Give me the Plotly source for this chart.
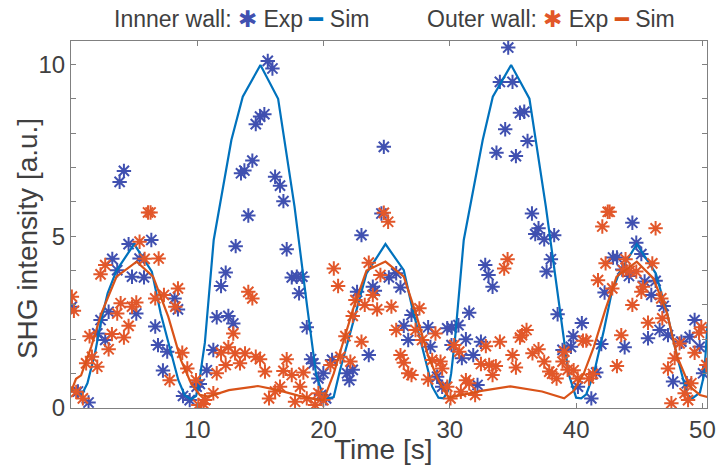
import plotly.graph_objects as go

# ---- Inner wall: experiment (time [s], SHG intensity [a.u.]) ----
inner_exp_t = [
    0.07, 0.55, 1.39, 2.08, 2.34, 2.71, 2.98, 3.27, 3.66, 3.85, 4.19, 4.56, 4.83, 5.17,
    5.43, 5.78, 6.36, 6.67, 6.89, 7.28, 7.62, 8.2, 8.47, 8.87, 9.4, 9.95,
    10.2, 10.75, 11.27, 11.54, 11.88, 12.25, 12.46, 12.85, 13.04, 13.46, 13.73, 14.04,
    14.36, 14.63, 14.97, 15.31, 15.58, 15.95, 16.16, 16.55, 16.82, 17.08, 17.48, 17.88,
    18.06, 18.32, 18.67, 19.01, 19.19, 19.59, 19.8, 19.98,
    20.2, 20.67, 21.86, 22.04, 22.31, 22.65, 23.0, 23.58, 23.9, 24.06, 24.58, 24.77,
    25.17, 25.75, 26.09, 26.35, 26.7, 26.96, 28.28, 28.46, 28.99, 29.39, 29.79, 30.13,
    30.15, 30.68, 30.95, 31.27, 31.53, 31.85, 32.19, 32.46, 32.8, 33.06, 33.38, 33.69,
    33.96, 34.38, 34.62, 34.96, 35.23, 35.55, 35.89, 36.15, 36.5, 36.76, 37.02, 37.47,
    37.66, 38.0, 38.26, 38.53, 38.92, 39.59, 39.77,
    40.14, 40.45, 41.2, 41.59, 41.99, 42.25, 42.92, 43.23, 43.65, 43.84, 44.18, 44.45,
    44.76, 45.16, 45.42, 45.69, 45.95, 46.29, 46.61, 46.93, 47.27, 47.67, 48.33, 48.76,
    48.99, 49.38, 49.78, 50.05,
]
inner_exp_v = [
    2.95, 0.48, 0.16, 2.17, 2.56, 1.98, 2.80, 4.34, 4.01, 6.58, 6.90, 4.77, 3.82, 2.75,
    4.35, 3.80, 4.89, 2.37, 1.83, 1.09, 1.64, 3.19, 2.87, 0.35, 0.23, 0.62,
    0.70, 1.10, 1.69, 2.64, 3.55, 3.94, 2.68, 2.46, 4.71, 6.83, 6.91, 5.60,
    7.20, 8.26, 8.48, 8.55, 10.10, 9.88, 6.73, 6.47, 6.02, 4.62, 3.80, 3.82,
    3.34, 3.82, 2.35, 1.42, 1.30, 0.86, 0.38, 1.01,
    0.28, 1.40, 1.01, 0.81, 1.11, 3.38, 5.03, 1.54, 3.53, 3.41, 5.66, 7.60,
    3.80, 3.92, 3.51, 2.39, 1.98, 2.71, 2.35, 1.78, 0.91, 0.62, 2.32, 1.83,
    2.34, 2.41, 1.45, 2.00, 2.77, 1.54, 0.67, 1.93, 4.16, 3.87, 3.53, 7.43,
    9.49, 8.11, 10.49, 9.49, 7.33, 8.59, 8.62, 7.77, 5.66, 5.06, 5.23, 4.91,
    3.97, 4.33, 5.03, 2.73, 1.69, 1.78, 2.09,
    0.62, 2.47, 0.28, 1.03, 1.86, 3.36, 4.38, 4.38, 4.03, 1.77, 3.84, 5.39,
    4.81, 4.48, 3.68, 2.03, 3.29, 3.70, 2.27, 2.97, 2.12, 0.77, 1.93, 0.72,
    2.07, 2.56, 1.78, 1.01,
]

# ---- Outer wall: experiment ----
outer_exp_t = [
    0.07, 0.23, 0.41, 0.94, 1.2, 1.47, 1.66, 2.08, 2.34, 2.71, 2.98, 3.24, 3.66, 3.93,
    4.19, 4.56, 4.83, 5.17, 5.43, 5.83, 6.1, 6.3, 6.67, 6.94, 7.36, 7.81, 8.26, 8.47,
    8.81, 9.21, 9.9,
    10.08, 10.5, 10.61, 11.27, 11.54, 11.88, 12.25, 12.46, 12.85, 12.99, 13.38, 13.78,
    14.04, 14.36, 14.63, 14.97, 15.36, 15.68, 16.16, 16.55, 16.82, 17.08, 17.48, 17.74,
    18.14, 18.4, 18.67, 19.33, 19.59, 19.98,
    20.54, 20.81, 21.15, 21.33, 21.73, 22.12, 22.31, 22.52, 23.0, 23.26, 23.58, 23.9,
    24.24, 24.5, 24.77, 25.11, 25.37, 25.75, 26.09, 26.35, 26.7, 26.96, 27.28, 27.59,
    27.8, 28.28, 28.6, 28.86, 29.26, 29.39, 29.79, 30.05,
    30.34, 30.74, 30.87, 31.27, 31.53, 32.0, 32.46, 32.85, 33.11, 33.38, 33.64, 33.96,
    34.3, 34.57, 34.96, 35.23, 35.55, 35.71, 36.07, 36.54, 37.02, 37.47, 37.87, 38.1,
    38.45, 38.92, 39.06, 39.32, 39.8,
    40.12, 40.54, 40.8, 41.01, 41.33, 41.73, 42.07, 42.33, 42.5, 42.65, 42.86, 43.23,
    43.57, 43.71, 43.91, 44.23, 44.45, 44.76, 45.16, 45.29, 45.69, 46.03, 46.29, 46.74,
    46.82, 47.27, 47.54, 47.8, 48.19, 48.59, 48.86, 49.12, 49.38, 49.73, 49.91, 50.31,
]
outer_exp_v = [
    3.24, 2.83, 0.47, 0.28, 1.30, 2.09, 1.49, 1.20, 3.89, 4.16, 1.71, 2.15, 2.75, 3.05,
    2.05, 2.39, 2.95, 3.07, 4.84, 4.34, 5.69, 5.69, 3.19, 4.35, 3.29, 0.81, 2.95, 3.48,
    1.61, 1.15, 0.81,
    0.09, 0.12, 0.23, 0.43, 1.01, 1.61, 1.25, 1.77, 2.17, 1.59, 1.30, 1.59,
    3.38, 3.19, 1.49, 1.42, 1.06, 0.28, 0.48, 0.62, 1.08, 1.42, 0.96, 0.18,
    0.62, 1.03, 0.28, 0.09, 0.43, 0.23,
    1.25, 4.06, 3.55, 1.49, 2.09, 1.35, 2.68, 3.14, 1.93, 3.00, 4.23, 3.29,
    2.87, 3.87, 5.68, 5.42, 2.95, 2.27, 1.54, 1.32, 1.01, 0.96, 2.27, 2.90,
    1.98, 0.83, 1.40, 2.17, 1.35, 1.15, 0.62, 0.28,
    1.83, 1.64, 0.47, 0.81, 0.72, 0.38, 1.28, 1.80, 1.25, 0.96, 1.22, 1.93,
    4.06, 4.33, 1.54, 1.18, 2.05, 2.12, 2.27, 1.59, 1.71, 1.35, 1.06, 1.00,
    0.86, 1.35, 1.64, 1.11, 1.10,
    0.86, 1.96, 1.96, 0.86, 0.99, 3.72, 5.28, 4.21, 5.71, 5.71, 3.48, 1.22,
    2.12, 4.01, 4.33, 3.99, 3.00, 3.97, 3.38, 3.53, 2.48, 4.21, 5.23, 3.19,
    2.61, 1.15, 0.14, 1.45, 1.88, 0.43, 0.23, 0.72, 1.61, 2.19, 2.35, 1.25,
]

# ---- Inner wall: simulation ----
inner_sim_t = [
    0.0, 0.3, 0.8, 1.3, 1.9, 2.4, 2.9, 3.6, 5.0, 6.4, 7.1, 7.7, 8.5, 9.0, 9.5, 9.9,
    10.1, 10.4, 10.6, 11.3, 12.7, 13.6, 15.0, 16.4, 17.7, 18.7, 19.4, 20.0, 20.4,
    20.8, 21.3, 22.1, 22.9, 23.4, 24.9, 26.35, 27.0, 27.8, 28.6, 29.1, 29.5, 29.85,
    30.1, 30.4, 31.1, 32.6, 33.4, 34.85, 36.3, 37.6, 38.7, 39.4, 40.0, 40.4, 40.8,
    41.4, 42.2, 42.8, 43.4, 44.8, 46.3, 47.2, 48.0, 48.8, 49.2, 49.8, 50.15, 50.4,
]
inner_sim_v = [
    0.60, 0.45, 0.35, 0.72, 1.60, 2.56, 3.34, 4.00, 4.77, 3.97, 2.76, 1.89, 0.81, 0.38,
    0.25, 0.35, 0.60, 1.40, 1.90, 4.89, 7.80, 9.06, 9.98, 9.00, 5.86, 2.95, 1.00, 0.28,
    0.28, 0.32, 1.10, 2.17, 3.24, 3.92, 4.77, 4.01, 2.95, 1.78, 0.62, 0.30, 0.28, 0.50,
    1.00, 1.98, 4.89, 7.80, 9.06, 9.98, 9.00, 5.86, 2.95, 1.00, 0.30, 0.28, 0.40,
    1.00, 2.27, 3.34, 3.92, 4.77, 3.92, 2.76, 1.49, 0.38, 0.28, 0.45, 1.00, 2.46,
]

# ---- Outer wall: simulation ----
outer_sim_t = [
    0.0, 0.4, 0.8, 1.6, 2.4, 3.6, 5.2, 6.5, 7.7, 8.7, 9.5, 10.2, 10.9, 12.5, 14.8,
    16.4, 18.0, 19.3, 20.0, 20.8, 21.6, 22.4, 23.4, 24.9, 26.35, 27.3, 28.3, 29.1,
    29.9, 32.5, 34.8, 37.3, 39.05, 39.8, 40.6, 41.4, 42.3, 43.2, 44.8, 46.1, 47.2,
    48.0, 49.0, 49.8, 50.4,
]
outer_sim_v = [
    0.47, 0.85, 0.95, 1.78, 2.75, 3.82, 4.26, 3.82, 2.66, 1.40, 0.72, 0.38, 0.33, 0.52,
    0.64, 0.52, 0.36, 0.26, 0.23, 1.00, 1.98, 2.95, 4.00, 4.26, 3.82, 2.76, 1.49, 0.81,
    0.30, 0.50, 0.63, 0.48, 0.28, 0.50, 1.00, 1.78, 2.85, 3.82, 4.26, 3.78, 2.76,
    1.49, 0.62, 0.38, 0.32,
]

y_tick_vals = list(range(0, 11))
y_tick_text = ["0", "", "", "", "", "5", "", "", "", "", "10"]
x_tick_vals = [10, 20, 30, 40, 50]

BLUE_EXP = "#4050B0"
BLUE_SIM = "#0072BD"
ORANGE_EXP = "#E2572A"
ORANGE_SIM = "#D95319"
TEXT = "#404040"
AXIS = "#808080"
FONT = "Liberation Sans, Arial, sans-serif"

fig = go.Figure()

fig.add_trace(go.Scatter(
    x=inner_exp_t, y=inner_exp_v, mode="markers", name="Exp",
    marker=dict(symbol="asterisk-open", size=12, color=BLUE_EXP,
                line=dict(color=BLUE_EXP, width=2)),
))
fig.add_trace(go.Scatter(
    x=inner_sim_t, y=inner_sim_v, mode="lines", name="Sim",
    line=dict(color=BLUE_SIM, width=2.2),
))
fig.add_trace(go.Scatter(
    x=outer_exp_t, y=outer_exp_v, mode="markers", name="Exp",
    marker=dict(symbol="asterisk-open", size=12, color=ORANGE_EXP,
                line=dict(color=ORANGE_EXP, width=2)),
))
fig.add_trace(go.Scatter(
    x=outer_sim_t, y=outer_sim_v, mode="lines", name="Sim",
    line=dict(color=ORANGE_SIM, width=2.2),
))

# Legend row drawn as text with coloured glyphs
legend_font = dict(family=FONT, size=23, color=TEXT)


def legend_text(label, exp_color, sim_color):
    return (f"{label} <span style='color:{exp_color}'>✱</span> Exp "
            f"<span style='color:{sim_color}'>━</span> Sim")


fig.add_annotation(
    xref="paper", yref="paper", x=0.0645, y=1.06, xanchor="left", yanchor="middle",
    showarrow=False, font=legend_font,
    text=legend_text("Innner wall:", BLUE_EXP, BLUE_SIM),
)
fig.add_annotation(
    xref="paper", yref="paper", x=0.5566, y=1.06, xanchor="left", yanchor="middle",
    showarrow=False, font=legend_font,
    text=legend_text("Outer wall:", ORANGE_EXP, ORANGE_SIM),
)

# Axis titles
fig.add_annotation(
    xref="paper", yref="paper", x=0.4906, y=-0.112, xanchor="center", yanchor="middle",
    showarrow=False, text="Time [s]", font=dict(family=FONT, size=28, color=TEXT),
)
fig.add_annotation(
    xref="paper", yref="paper", x=-0.0692, y=0.463, xanchor="center", yanchor="middle",
    showarrow=False, text="SHG intensity [a.u.]", textangle=-90,
    font=dict(family=FONT, size=28, color=TEXT),
)

axis_common = dict(
    showgrid=False, zeroline=False, showline=True, linecolor=AXIS, linewidth=1,
    mirror="ticks", ticks="inside", ticklen=5, tickwidth=1, tickcolor=AXIS,
    tickfont=dict(family=FONT, size=24, color=TEXT),
)

fig.update_xaxes(range=[0, 50.36], tickvals=x_tick_vals, **axis_common)
fig.update_yaxes(range=[0, 10.68], tickvals=y_tick_vals, ticktext=y_tick_text, **axis_common)

fig.update_layout(
    width=716, height=467,
    margin=dict(l=71, r=9, t=41, b=59, autoexpand=False),
    paper_bgcolor="white", plot_bgcolor="white",
    showlegend=False,
    font=dict(family=FONT, color=TEXT),
)

fig.write_html("out.html", include_plotlyjs=True, full_html=True,
               config={"displayModeBar": False})
